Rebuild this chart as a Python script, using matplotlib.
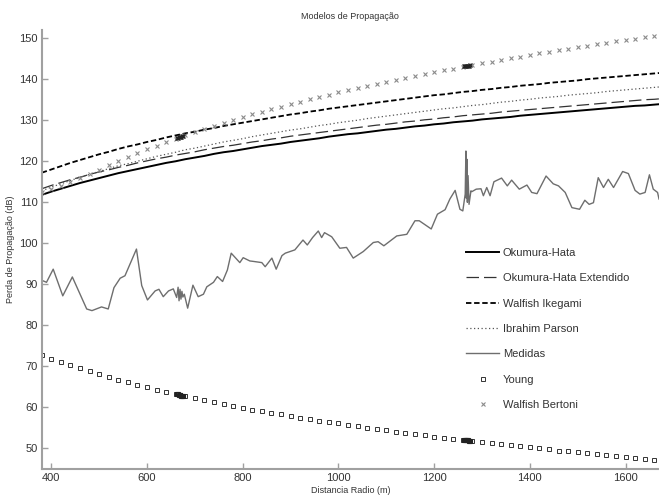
import matplotlib
matplotlib.use("Agg")
import matplotlib.pyplot as plt

plt.rcParams['font.family'] = ['Liberation Sans Narrow', 'Liberation Sans', 'DejaVu Sans']

# Distances (m) for the model curves
dist = [380, 400, 420, 440, 460, 480, 500, 520, 540, 560, 580, 600, 620, 640, 660, 680,
        700, 720, 740, 760, 780, 800, 820, 840, 860, 880, 900, 920, 940, 960, 980, 1000,
        1020, 1040, 1060, 1080, 1100, 1120, 1140, 1160, 1180, 1200, 1220, 1240, 1260, 1280,
        1300, 1320, 1340, 1360, 1380, 1400, 1420, 1440, 1460, 1480, 1500, 1520, 1540, 1560,
        1580, 1600, 1620, 1640, 1660, 1680]

okumura_hata = [111.8, 112.6, 113.3, 114.0, 114.7, 115.3, 115.9, 116.5, 117.1, 117.6, 118.1,
                118.6, 119.1, 119.6, 120.0, 120.5, 120.9, 121.3, 121.8, 122.2, 122.5, 122.9,
                123.3, 123.7, 124.0, 124.3, 124.7, 125.0, 125.3, 125.6, 126.0, 126.3, 126.6,
                126.8, 127.1, 127.4, 127.7, 127.9, 128.2, 128.5, 128.7, 129.0, 129.2, 129.5,
                129.7, 129.9, 130.2, 130.4, 130.6, 130.8, 131.1, 131.3, 131.5, 131.7, 131.9,
                132.1, 132.3, 132.5, 132.7, 132.9, 133.1, 133.3, 133.5, 133.6, 133.8, 134.0]

okumura_hata_ext = [113.3, 114.1, 114.8, 115.5, 116.1, 116.8, 117.4, 117.9, 118.5, 119.0, 119.6,
                    120.1, 120.6, 121.0, 121.5, 121.9, 122.3, 122.8, 123.2, 123.6, 123.9, 124.3,
                    124.7, 125.0, 125.4, 125.7, 126.1, 126.4, 126.7, 127.0, 127.3, 127.6, 127.9,
                    128.2, 128.5, 128.8, 129.0, 129.3, 129.6, 129.8, 130.1, 130.3, 130.6, 130.8,
                    131.1, 131.3, 131.5, 131.7, 132.0, 132.2, 132.4, 132.6, 132.8, 133.0, 133.2,
                    133.4, 133.6, 133.8, 134.0, 134.2, 134.4, 134.6, 134.8, 135.0, 135.1, 135.3]

walfish_ikegami = [117.2, 118.0, 118.8, 119.6, 120.3, 121.0, 121.7, 122.3, 123.0, 123.6, 124.1,
                   124.7, 125.2, 125.8, 126.3, 126.8, 127.2, 127.7, 128.1, 128.6, 129.0, 129.4,
                   129.8, 130.2, 130.6, 131.0, 131.4, 131.7, 132.1, 132.4, 132.8, 133.1, 133.4,
                   133.7, 134.0, 134.3, 134.6, 134.9, 135.2, 135.5, 135.8, 136.1, 136.3, 136.6,
                   136.9, 137.1, 137.4, 137.6, 137.9, 138.1, 138.4, 138.6, 138.8, 139.1, 139.3,
                   139.5, 139.7, 140.0, 140.2, 140.4, 140.6, 140.8, 141.0, 141.2, 141.4, 141.6]

ibrahim_parson = [112.8, 113.7, 114.5, 115.3, 116.1, 116.8, 117.5, 118.2, 118.9, 119.4, 120.0,
                  120.6, 121.2, 121.7, 122.2, 122.8, 123.2, 123.7, 124.2, 124.7, 125.1, 125.5,
                  126.0, 126.4, 126.8, 127.2, 127.6, 127.9, 128.3, 128.7, 129.0, 129.4, 129.7,
                  130.0, 130.4, 130.7, 131.0, 131.3, 131.6, 131.9, 132.2, 132.5, 132.8, 133.0,
                  133.3, 133.6, 133.8, 134.1, 134.4, 134.6, 134.9, 135.1, 135.4, 135.6, 135.8,
                  136.1, 136.3, 136.5, 136.7, 137.0, 137.2, 137.4, 137.6, 137.8, 138.0, 138.2]

walfish_bertoni = [112.4, 113.2, 114.0, 114.9, 115.9, 116.9, 117.9, 119.0, 120.0, 121.0, 122.0,
                   122.9, 123.8, 124.7, 125.5, 126.3, 127.1, 127.8, 128.6, 129.3, 130.0, 130.7,
                   131.4, 132.0, 132.7, 133.3, 133.9, 134.5, 135.1, 135.7, 136.2, 136.8, 137.3,
                   137.8, 138.3, 138.9, 139.4, 139.8, 140.3, 140.8, 141.3, 141.7, 142.2, 142.6,
                   143.0, 143.5, 143.9, 144.3, 144.7, 145.1, 145.5, 145.9, 146.3, 146.7, 147.0,
                   147.4, 147.8, 148.1, 148.5, 148.8, 149.2, 149.5, 149.9, 150.2, 150.5, 150.8]

young = [72.8, 71.9, 71.1, 70.3, 69.5, 68.8, 68.1, 67.4, 66.7, 66.1, 65.5, 64.9, 64.3, 63.8,
         63.3, 62.7, 62.2, 61.8, 61.3, 60.8, 60.4, 59.9, 59.5, 59.1, 58.7, 58.3, 57.9, 57.5,
         57.1, 56.8, 56.4, 56.1, 55.7, 55.4, 55.1, 54.7, 54.4, 54.1, 53.8, 53.5, 53.2, 52.9,
         52.6, 52.4, 52.1, 51.8, 51.5, 51.3, 51.0, 50.8, 50.5, 50.3, 50.0, 49.8, 49.5, 49.3,
         49.1, 48.8, 48.6, 48.4, 48.2, 48.0, 47.7, 47.5, 47.3, 47.1]

# Dense clusters of model points where the route passes repeatedly
cluster_dist = [662, 664, 666, 668, 670, 672, 674, 676, 1262, 1264, 1266, 1268, 1270, 1272, 1274]
cluster_wb = [125.6, 125.7, 125.8, 125.9, 126.0, 126.0, 126.1, 126.2,
              143.1, 143.1, 143.2, 143.2, 143.3, 143.3, 143.4]
cluster_young = [63.2, 63.2, 63.1, 63.0, 63.0, 62.9, 62.9, 62.8,
                 52.1, 52.1, 52.0, 52.0, 52.0, 51.9, 51.9]

# Measured path loss
med_dist = [380, 390, 404, 424, 444, 474, 485, 505, 519, 531, 544, 554, 578, 589, 601, 617, 625,
            634, 645, 655, 662, 665, 667, 669, 671, 673, 675, 678, 685, 696, 707, 718, 725, 739,
            747, 758, 768, 776, 794, 801, 815, 822, 840, 847, 861, 870, 882, 889, 909, 926, 935,
            946, 958, 965, 971, 986, 1003, 1017, 1031, 1052, 1073, 1083, 1095, 1122, 1143, 1160,
            1169, 1194, 1207, 1223, 1233, 1244, 1254, 1260, 1265, 1266.5, 1267.5, 1268.5, 1269.5,
            1271, 1273, 1277, 1279, 1288, 1298, 1303, 1310, 1317, 1325, 1341, 1353, 1362, 1378,
            1394, 1404, 1415, 1434, 1449, 1460, 1474, 1488, 1504, 1515, 1524, 1533, 1543, 1554,
            1564, 1575, 1594, 1606, 1620, 1630, 1641, 1650, 1658, 1667, 1670]
medidas = [91.0, 90.5, 93.7, 87.2, 91.8, 84.0, 83.6, 84.5, 84.0, 89.2, 91.5, 92.1, 98.6, 89.7,
           86.2, 88.4, 88.8, 87.0, 88.4, 88.9, 86.8, 89.3, 86.0, 88.8, 86.4, 88.3, 86.9, 87.6,
           84.2, 89.8, 87.0, 87.6, 89.4, 90.5, 91.9, 90.7, 93.5, 97.6, 95.3, 96.5, 95.7, 95.6,
           95.3, 94.3, 96.4, 93.7, 97.0, 97.6, 98.4, 100.8, 99.6, 101.4, 103.0, 101.4, 102.6,
           101.6, 98.8, 99.0, 96.4, 98.0, 100.2, 100.4, 99.4, 101.8, 102.2, 105.5, 105.5, 103.5,
           107.1, 108.2, 110.8, 112.9, 108.3, 107.9, 112.0, 122.5, 111.0, 120.5, 110.0, 116.5,
           109.5, 112.8, 112.6, 113.2, 113.3, 111.6, 113.6, 111.6, 115.0, 115.9, 114.0, 115.4,
           113.2, 114.2, 112.4, 112.1, 116.4, 114.5, 114.0, 112.4, 108.7, 108.3, 110.5, 109.5,
           109.9, 116.0, 113.6, 115.6, 113.6, 117.5, 117.0, 112.9, 112.0, 112.4, 116.7, 113.2,
           112.4, 110.8]

x_ticks = [400, 600, 800, 1000, 1200, 1400, 1600]
y_ticks = [50, 60, 70, 80, 90, 100, 110, 120, 130, 140, 150]

fig = plt.figure(figsize=(6.59, 4.95), dpi=100)
ax = fig.add_axes([0.0633, 0.0525, 0.9367, 0.887])

l_oh, = ax.plot(dist, okumura_hata, color='black', lw=1.4, label='Okumura-Hata')
l_ohe, = ax.plot(dist, okumura_hata_ext, color='#333333', lw=0.9, dashes=(10, 4),
                 label='Okumura-Hata Extendido')
l_wi, = ax.plot(dist, walfish_ikegami, color='black', lw=1.3, dashes=(3, 1.5),
                label='Walfish Ikegami')
l_ip, = ax.plot(dist, ibrahim_parson, color='#555555', lw=0.9, dashes=(1, 2),
                label='Ibrahim Parson')
l_med, = ax.plot(med_dist, medidas, color='#6e6e6e', lw=1.0, label='Medidas')
l_y, = ax.plot(dist, young, ls='none', marker='s', ms=2.4, mfc='none', mec='#333333',
               mew=0.7, label='Young')
ax.plot(cluster_dist, cluster_young, ls='none', marker='s', ms=2.4, mfc='none',
        mec='#222222', mew=0.8)
l_wb, = ax.plot(dist, walfish_bertoni, ls='none', marker='x', ms=3.0, mec='#8a8a8a',
                mew=0.8, label='Walfish Bertoni')
ax.plot(cluster_dist, cluster_wb, ls='none', marker='x', ms=3.0, mec='#222222', mew=0.9)

ax.set_xlim(380, 1670)
ax.set_ylim(45, 152)
ax.set_xticks(x_ticks)
ax.set_yticks(y_ticks)
for s in ['top', 'right']:
    ax.spines[s].set_visible(False)
for s in ['left', 'bottom']:
    ax.spines[s].set_color('#a0a0a0')
    ax.spines[s].set_linewidth(1.5)
ax.tick_params(direction='in', length=4, width=1, color='#a0a0a0', labelcolor='#333333',
               labelsize=8, pad=3)

ax.set_title('Modelos de Propagação', fontsize=6.5, color='#333333', pad=8)
ax.set_xlabel('Distancia Radio (m)', fontsize=6.5, color='#333333', labelpad=2)
ax.set_ylabel('Perda de Propagação (dB)', fontsize=6.5, color='#333333', labelpad=3)

leg = ax.legend(handles=[l_oh, l_ohe, l_wi, l_ip, l_med, l_y, l_wb],
                loc='upper left', bbox_to_anchor=(466 / 659, 1 - 248 / 495),
                bbox_transform=fig.transFigure, frameon=False, fontsize=8,
                handlelength=3.0, handletextpad=0.3, labelspacing=1.38,
                borderpad=0, borderaxespad=0, markerscale=1.0)
for t in leg.get_texts():
    t.set_color('#333333')

fig.savefig('out.png', dpi=100)
